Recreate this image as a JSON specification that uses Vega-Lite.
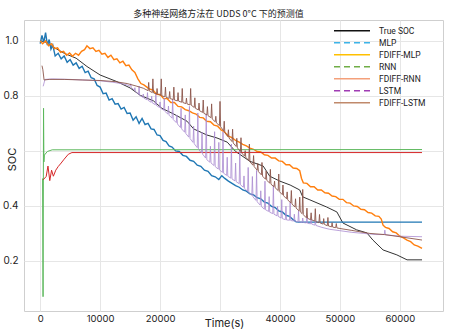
{
  "$schema": "https://vega.github.io/schema/vega-lite/v6.json",
  "autosize": {"type": "none"},
  "width": 419,
  "height": 291,
  "padding": {"left": 24, "top": 20, "right": 20, "bottom": 20},
  "background": "white",
  "title": {"text": "多种神经网络方法在 UDDS 0°C 下的预测值", "font": "Noto Sans CJK SC", "fontSize": 9, "fontWeight": "normal", "color": "#222", "offset": 4, "dx": -15, "dy": 3},
  "config": {
    "view": {"stroke": "#cfcfcf"},
    "axis": {"grid": true, "gridColor": "#e6e6e6", "domain": false, "ticks": false, "labelFont": "Inter", "labelColor": "#222", "titleFont": "Inter", "titleColor": "#222", "titleFontWeight": "normal"},
    "legend": {"labelFont": "Roboto", "labelFontSize": 8.5, "labelColor": "#222"}
  },
  "datasets": {
    "main": [
      {"s":"True SOC","t":0,"v":1.0},{"s":"True SOC","t":800,"v":0.997},{"s":"True SOC","t":2000,"v":0.98},{"s":"True SOC","t":4000,"v":0.955},{"s":"True SOC","t":6000,"v":0.937},{"s":"True SOC","t":7800,"v":0.907},{"s":"True SOC","t":10000,"v":0.876},{"s":"True SOC","t":12800,"v":0.852},{"s":"True SOC","t":15000,"v":0.829},{"s":"True SOC","t":16700,"v":0.802},{"s":"True SOC","t":18900,"v":0.782},{"s":"True SOC","t":20300,"v":0.755},{"s":"True SOC","t":22200,"v":0.735},{"s":"True SOC","t":24500,"v":0.708},{"s":"True SOC","t":25600,"v":0.68},{"s":"True SOC","t":27800,"v":0.658},{"s":"True SOC","t":29500,"v":0.647},{"s":"True SOC","t":31200,"v":0.632},{"s":"True SOC","t":32600,"v":0.598},{"s":"True SOC","t":35000,"v":0.562},{"s":"True SOC","t":37200,"v":0.545},{"s":"True SOC","t":38300,"v":0.508},{"s":"True SOC","t":40000,"v":0.49},{"s":"True SOC","t":41700,"v":0.476},{"s":"True SOC","t":43300,"v":0.458},{"s":"True SOC","t":43800,"v":0.433},{"s":"True SOC","t":45000,"v":0.422},{"s":"True SOC","t":47800,"v":0.396},{"s":"True SOC","t":49500,"v":0.378},{"s":"True SOC","t":50500,"v":0.338},{"s":"True SOC","t":52800,"v":0.313},{"s":"True SOC","t":54500,"v":0.302},{"s":"True SOC","t":55500,"v":0.276},{"s":"True SOC","t":57200,"v":0.24},{"s":"True SOC","t":59500,"v":0.222},{"s":"True SOC","t":61200,"v":0.204},{"s":"True SOC","t":63700,"v":0.204},

      {"s":"MLP","t":0,"v":0.99},{"s":"MLP","t":300,"v":1.02},{"s":"MLP","t":600,"v":0.995},{"s":"MLP","t":900,"v":1.03},{"s":"MLP","t":1200,"v":0.985},{"s":"MLP","t":1500,"v":1.005},{"s":"MLP","t":1800,"v":0.97},{"s":"MLP","t":2100,"v":0.985},{"s":"MLP","t":2500,"v":0.945},{"s":"MLP","t":3000,"v":0.955},{"s":"MLP","t":3500,"v":0.935},{"s":"MLP","t":4000,"v":0.945},{"s":"MLP","t":4500,"v":0.922},{"s":"MLP","t":5000,"v":0.932},{"s":"MLP","t":5500,"v":0.912},{"s":"MLP","t":6000,"v":0.92},{"s":"MLP","t":6500,"v":0.9},{"s":"MLP","t":7000,"v":0.908},{"s":"MLP","t":7500,"v":0.885},{"s":"MLP","t":8000,"v":0.89},{"s":"MLP","t":8500,"v":0.866},{"s":"MLP","t":9000,"v":0.862},{"s":"MLP","t":9500,"v":0.838},{"s":"MLP","t":10000,"v":0.832},{"s":"MLP","t":10500,"v":0.808},{"s":"MLP","t":11000,"v":0.81},{"s":"MLP","t":11500,"v":0.785},{"s":"MLP","t":12000,"v":0.79},{"s":"MLP","t":12500,"v":0.77},{"s":"MLP","t":13000,"v":0.772},{"s":"MLP","t":13500,"v":0.752},{"s":"MLP","t":14000,"v":0.758},{"s":"MLP","t":14500,"v":0.736},{"s":"MLP","t":15000,"v":0.738},{"s":"MLP","t":15500,"v":0.712},{"s":"MLP","t":16000,"v":0.724},{"s":"MLP","t":16500,"v":0.7},{"s":"MLP","t":17000,"v":0.718},{"s":"MLP","t":17500,"v":0.696},{"s":"MLP","t":18000,"v":0.7},{"s":"MLP","t":18500,"v":0.68},{"s":"MLP","t":19000,"v":0.678},{"s":"MLP","t":19500,"v":0.658},{"s":"MLP","t":20000,"v":0.656},{"s":"MLP","t":20500,"v":0.638},{"s":"MLP","t":21000,"v":0.634},{"s":"MLP","t":21500,"v":0.618},{"s":"MLP","t":22000,"v":0.614},{"s":"MLP","t":22600,"v":0.6},{"s":"MLP","t":23200,"v":0.598},{"s":"MLP","t":23800,"v":0.584},{"s":"MLP","t":24400,"v":0.58},{"s":"MLP","t":25000,"v":0.566},{"s":"MLP","t":25600,"v":0.562},{"s":"MLP","t":26200,"v":0.548},{"s":"MLP","t":26800,"v":0.544},{"s":"MLP","t":27400,"v":0.53},{"s":"MLP","t":28000,"v":0.526},{"s":"MLP","t":28600,"v":0.51},{"s":"MLP","t":29200,"v":0.506},{"s":"MLP","t":29800,"v":0.496},{"s":"MLP","t":30300,"v":0.51},{"s":"MLP","t":30800,"v":0.5},{"s":"MLP","t":31400,"v":0.49},{"s":"MLP","t":32000,"v":0.482},{"s":"MLP","t":32600,"v":0.474},{"s":"MLP","t":33200,"v":0.468},{"s":"MLP","t":33800,"v":0.458},{"s":"MLP","t":34400,"v":0.454},{"s":"MLP","t":35000,"v":0.444},{"s":"MLP","t":35600,"v":0.44},{"s":"MLP","t":36200,"v":0.43},{"s":"MLP","t":36800,"v":0.426},{"s":"MLP","t":37400,"v":0.414},{"s":"MLP","t":38000,"v":0.41},{"s":"MLP","t":38600,"v":0.398},{"s":"MLP","t":39200,"v":0.394},{"s":"MLP","t":39800,"v":0.382},{"s":"MLP","t":40400,"v":0.378},{"s":"MLP","t":41000,"v":0.366},{"s":"MLP","t":41600,"v":0.362},{"s":"MLP","t":42200,"v":0.35},{"s":"MLP","t":42700,"v":0.342},{"s":"MLP","t":43200,"v":0.341},{"s":"MLP","t":63700,"v":0.341},

      {"s":"FDIFF-MLP","t":0,"v":1.0},{"s":"FDIFF-MLP","t":400,"v":0.99},{"s":"FDIFF-MLP","t":900,"v":1.0},{"s":"FDIFF-MLP","t":1400,"v":0.982},{"s":"FDIFF-MLP","t":1900,"v":0.99},{"s":"FDIFF-MLP","t":2400,"v":0.972},{"s":"FDIFF-MLP","t":2900,"v":0.975},{"s":"FDIFF-MLP","t":3400,"v":0.958},{"s":"FDIFF-MLP","t":3900,"v":0.962},{"s":"FDIFF-MLP","t":4400,"v":0.948},{"s":"FDIFF-MLP","t":4900,"v":0.956},{"s":"FDIFF-MLP","t":5400,"v":0.944},{"s":"FDIFF-MLP","t":5900,"v":0.955},{"s":"FDIFF-MLP","t":6400,"v":0.948},{"s":"FDIFF-MLP","t":6900,"v":0.962},{"s":"FDIFF-MLP","t":7400,"v":0.968},{"s":"FDIFF-MLP","t":7800,"v":0.982},{"s":"FDIFF-MLP","t":8300,"v":0.972},{"s":"FDIFF-MLP","t":8800,"v":0.975},{"s":"FDIFF-MLP","t":9300,"v":0.962},{"s":"FDIFF-MLP","t":9800,"v":0.966},{"s":"FDIFF-MLP","t":10300,"v":0.952},{"s":"FDIFF-MLP","t":10800,"v":0.955},{"s":"FDIFF-MLP","t":11300,"v":0.94},{"s":"FDIFF-MLP","t":11800,"v":0.948},{"s":"FDIFF-MLP","t":12300,"v":0.932},{"s":"FDIFF-MLP","t":12800,"v":0.935},{"s":"FDIFF-MLP","t":13300,"v":0.92},{"s":"FDIFF-MLP","t":13800,"v":0.926},{"s":"FDIFF-MLP","t":14300,"v":0.91},{"s":"FDIFF-MLP","t":14800,"v":0.912},{"s":"FDIFF-MLP","t":15300,"v":0.895},{"s":"FDIFF-MLP","t":15800,"v":0.885},{"s":"FDIFF-MLP","t":16300,"v":0.862},{"s":"FDIFF-MLP","t":16800,"v":0.845},{"s":"FDIFF-MLP","t":17300,"v":0.84},{"s":"FDIFF-MLP","t":17800,"v":0.832},{"s":"FDIFF-MLP","t":18300,"v":0.824},{"s":"FDIFF-MLP","t":18800,"v":0.822},{"s":"FDIFF-MLP","t":19400,"v":0.806},{"s":"FDIFF-MLP","t":20000,"v":0.805},{"s":"FDIFF-MLP","t":20600,"v":0.79},{"s":"FDIFF-MLP","t":21200,"v":0.79},{"s":"FDIFF-MLP","t":21800,"v":0.776},{"s":"FDIFF-MLP","t":22400,"v":0.776},{"s":"FDIFF-MLP","t":23000,"v":0.762},{"s":"FDIFF-MLP","t":23600,"v":0.76},{"s":"FDIFF-MLP","t":24200,"v":0.75},{"s":"FDIFF-MLP","t":24800,"v":0.746},{"s":"FDIFF-MLP","t":25400,"v":0.738},{"s":"FDIFF-MLP","t":26000,"v":0.734},{"s":"FDIFF-MLP","t":26600,"v":0.722},{"s":"FDIFF-MLP","t":27200,"v":0.72},{"s":"FDIFF-MLP","t":27800,"v":0.708},{"s":"FDIFF-MLP","t":28400,"v":0.706},{"s":"FDIFF-MLP","t":29000,"v":0.694},{"s":"FDIFF-MLP","t":29600,"v":0.69},{"s":"FDIFF-MLP","t":30200,"v":0.676},{"s":"FDIFF-MLP","t":30800,"v":0.668},{"s":"FDIFF-MLP","t":31400,"v":0.654},{"s":"FDIFF-MLP","t":32000,"v":0.648},{"s":"FDIFF-MLP","t":32600,"v":0.638},{"s":"FDIFF-MLP","t":33200,"v":0.632},{"s":"FDIFF-MLP","t":33800,"v":0.624},{"s":"FDIFF-MLP","t":34400,"v":0.618},{"s":"FDIFF-MLP","t":35000,"v":0.61},{"s":"FDIFF-MLP","t":35600,"v":0.606},{"s":"FDIFF-MLP","t":36200,"v":0.598},{"s":"FDIFF-MLP","t":36800,"v":0.596},{"s":"FDIFF-MLP","t":37400,"v":0.586},{"s":"FDIFF-MLP","t":38000,"v":0.584},{"s":"FDIFF-MLP","t":38600,"v":0.574},{"s":"FDIFF-MLP","t":39200,"v":0.574},{"s":"FDIFF-MLP","t":39800,"v":0.564},{"s":"FDIFF-MLP","t":40400,"v":0.562},{"s":"FDIFF-MLP","t":41000,"v":0.55},{"s":"FDIFF-MLP","t":41600,"v":0.55},{"s":"FDIFF-MLP","t":42200,"v":0.538},{"s":"FDIFF-MLP","t":42800,"v":0.536},{"s":"FDIFF-MLP","t":43300,"v":0.528},{"s":"FDIFF-MLP","t":43600,"v":0.5},{"s":"FDIFF-MLP","t":43900,"v":0.484},{"s":"FDIFF-MLP","t":44500,"v":0.482},{"s":"FDIFF-MLP","t":45100,"v":0.47},{"s":"FDIFF-MLP","t":45700,"v":0.47},{"s":"FDIFF-MLP","t":46300,"v":0.458},{"s":"FDIFF-MLP","t":46900,"v":0.458},{"s":"FDIFF-MLP","t":47500,"v":0.448},{"s":"FDIFF-MLP","t":48100,"v":0.446},{"s":"FDIFF-MLP","t":48700,"v":0.436},{"s":"FDIFF-MLP","t":49300,"v":0.434},{"s":"FDIFF-MLP","t":49900,"v":0.424},{"s":"FDIFF-MLP","t":50500,"v":0.424},{"s":"FDIFF-MLP","t":51100,"v":0.412},{"s":"FDIFF-MLP","t":51700,"v":0.41},{"s":"FDIFF-MLP","t":52300,"v":0.4},{"s":"FDIFF-MLP","t":52900,"v":0.398},{"s":"FDIFF-MLP","t":53500,"v":0.388},{"s":"FDIFF-MLP","t":54100,"v":0.386},{"s":"FDIFF-MLP","t":54700,"v":0.376},{"s":"FDIFF-MLP","t":55300,"v":0.374},{"s":"FDIFF-MLP","t":55900,"v":0.364},{"s":"FDIFF-MLP","t":56500,"v":0.362},{"s":"FDIFF-MLP","t":56900,"v":0.352},{"s":"FDIFF-MLP","t":57200,"v":0.33},{"s":"FDIFF-MLP","t":57600,"v":0.322},{"s":"FDIFF-MLP","t":58200,"v":0.318},{"s":"FDIFF-MLP","t":58800,"v":0.306},{"s":"FDIFF-MLP","t":59400,"v":0.302},{"s":"FDIFF-MLP","t":60000,"v":0.29},{"s":"FDIFF-MLP","t":60600,"v":0.284},{"s":"FDIFF-MLP","t":61200,"v":0.276},{"s":"FDIFF-MLP","t":61800,"v":0.27},{"s":"FDIFF-MLP","t":62400,"v":0.258},{"s":"FDIFF-MLP","t":63000,"v":0.254},{"s":"FDIFF-MLP","t":63700,"v":0.246},

      {"s":"RNN","t":400,"v":0.5},{"s":"RNN","t":480,"v":0.07},{"s":"RNN","t":560,"v":0.755},{"s":"RNN","t":620,"v":0.56},{"s":"RNN","t":700,"v":0.585},{"s":"RNN","t":1200,"v":0.598},{"s":"RNN","t":2000,"v":0.604},{"s":"RNN","t":63700,"v":0.605},

      {"s":"FDIFF-RNN","t":500,"v":0.495},{"s":"FDIFF-RNN","t":1000,"v":0.507},{"s":"FDIFF-RNN","t":1300,"v":0.545},{"s":"FDIFF-RNN","t":1600,"v":0.492},{"s":"FDIFF-RNN","t":1900,"v":0.53},{"s":"FDIFF-RNN","t":2200,"v":0.508},{"s":"FDIFF-RNN","t":2600,"v":0.53},{"s":"FDIFF-RNN","t":3000,"v":0.543},{"s":"FDIFF-RNN","t":3500,"v":0.556},{"s":"FDIFF-RNN","t":4000,"v":0.57},{"s":"FDIFF-RNN","t":4700,"v":0.588},{"s":"FDIFF-RNN","t":5300,"v":0.594},{"s":"FDIFF-RNN","t":63700,"v":0.594},

      {"s":"LSTM","t":500,"v":0.835},{"s":"LSTM","t":800,"v":0.86},{"s":"LSTM","t":2000,"v":0.862},{"s":"LSTM","t":5000,"v":0.86},{"s":"LSTM","t":8000,"v":0.857},{"s":"LSTM","t":10000,"v":0.855},{"s":"LSTM","t":12000,"v":0.85},{"s":"LSTM","t":13500,"v":0.845},{"s":"LSTM","t":14500,"v":0.84},
      {"s":"LSTM","t":15000,"v":0.835},{"s":"LSTM","t":15100,"v":0.844},{"s":"LSTM","t":15200,"v":0.831},
      {"s":"LSTM","t":15700,"v":0.821},{"s":"LSTM","t":15800,"v":0.83},{"s":"LSTM","t":15900,"v":0.817},
      {"s":"LSTM","t":16400,"v":0.806},{"s":"LSTM","t":16500,"v":0.836},{"s":"LSTM","t":16600,"v":0.802},
      {"s":"LSTM","t":17100,"v":0.795},{"s":"LSTM","t":17200,"v":0.807},{"s":"LSTM","t":17300,"v":0.792},
      {"s":"LSTM","t":17800,"v":0.786},{"s":"LSTM","t":17900,"v":0.812},{"s":"LSTM","t":18000,"v":0.784},
      {"s":"LSTM","t":18500,"v":0.777},{"s":"LSTM","t":18600,"v":0.799},{"s":"LSTM","t":18700,"v":0.775},
      {"s":"LSTM","t":19200,"v":0.768},{"s":"LSTM","t":19300,"v":0.806},{"s":"LSTM","t":19400,"v":0.765},
      {"s":"LSTM","t":19900,"v":0.758},{"s":"LSTM","t":20000,"v":0.778},{"s":"LSTM","t":20100,"v":0.755},
      {"s":"LSTM","t":20600,"v":0.748},{"s":"LSTM","t":20700,"v":0.792},{"s":"LSTM","t":20800,"v":0.744},
      {"s":"LSTM","t":21300,"v":0.734},{"s":"LSTM","t":21400,"v":0.763},{"s":"LSTM","t":21500,"v":0.73},
      {"s":"LSTM","t":22000,"v":0.719},{"s":"LSTM","t":22100,"v":0.788},{"s":"LSTM","t":22200,"v":0.714},
      {"s":"LSTM","t":22700,"v":0.703},{"s":"LSTM","t":22800,"v":0.731},{"s":"LSTM","t":22900,"v":0.698},
      {"s":"LSTM","t":23400,"v":0.685},{"s":"LSTM","t":23500,"v":0.755},{"s":"LSTM","t":23600,"v":0.68},
      {"s":"LSTM","t":24100,"v":0.668},{"s":"LSTM","t":24200,"v":0.731},{"s":"LSTM","t":24300,"v":0.663},
      {"s":"LSTM","t":24800,"v":0.65},{"s":"LSTM","t":24900,"v":0.762},{"s":"LSTM","t":25000,"v":0.645},
      {"s":"LSTM","t":25500,"v":0.631},{"s":"LSTM","t":25600,"v":0.69},{"s":"LSTM","t":25700,"v":0.626},
      {"s":"LSTM","t":26200,"v":0.612},{"s":"LSTM","t":26300,"v":0.738},{"s":"LSTM","t":26400,"v":0.606},
      {"s":"LSTM","t":26900,"v":0.593},{"s":"LSTM","t":27000,"v":0.668},{"s":"LSTM","t":27100,"v":0.588},
      {"s":"LSTM","t":27600,"v":0.574},{"s":"LSTM","t":27700,"v":0.734},{"s":"LSTM","t":27800,"v":0.568},
      {"s":"LSTM","t":28300,"v":0.559},{"s":"LSTM","t":28400,"v":0.617},{"s":"LSTM","t":28500,"v":0.556},
      {"s":"LSTM","t":29000,"v":0.547},{"s":"LSTM","t":29100,"v":0.67},{"s":"LSTM","t":29200,"v":0.543},
      {"s":"LSTM","t":29700,"v":0.534},{"s":"LSTM","t":29800,"v":0.631},{"s":"LSTM","t":29900,"v":0.531},
      {"s":"LSTM","t":30400,"v":0.522},{"s":"LSTM","t":30500,"v":0.67},{"s":"LSTM","t":30600,"v":0.519},
      {"s":"LSTM","t":31100,"v":0.511},{"s":"LSTM","t":31200,"v":0.577},{"s":"LSTM","t":31300,"v":0.508},
      {"s":"LSTM","t":31800,"v":0.501},{"s":"LSTM","t":31900,"v":0.625},{"s":"LSTM","t":32000,"v":0.498},
      {"s":"LSTM","t":32500,"v":0.491},{"s":"LSTM","t":32600,"v":0.556},{"s":"LSTM","t":32700,"v":0.488},
      {"s":"LSTM","t":33200,"v":0.481},{"s":"LSTM","t":33300,"v":0.603},{"s":"LSTM","t":33400,"v":0.477},
      {"s":"LSTM","t":33900,"v":0.468},{"s":"LSTM","t":34000,"v":0.509},{"s":"LSTM","t":34100,"v":0.464},
      {"s":"LSTM","t":34600,"v":0.453},{"s":"LSTM","t":34700,"v":0.54},{"s":"LSTM","t":34800,"v":0.449},
      {"s":"LSTM","t":35300,"v":0.438},{"s":"LSTM","t":35400,"v":0.507},{"s":"LSTM","t":35500,"v":0.433},
      {"s":"LSTM","t":36000,"v":0.42},{"s":"LSTM","t":36100,"v":0.529},{"s":"LSTM","t":36200,"v":0.415},
      {"s":"LSTM","t":36700,"v":0.403},{"s":"LSTM","t":36800,"v":0.455},{"s":"LSTM","t":36900,"v":0.398},
      {"s":"LSTM","t":37400,"v":0.388},{"s":"LSTM","t":37500,"v":0.49},{"s":"LSTM","t":37600,"v":0.386},
      {"s":"LSTM","t":38100,"v":0.38},{"s":"LSTM","t":38200,"v":0.434},{"s":"LSTM","t":38300,"v":0.377},
      {"s":"LSTM","t":38800,"v":0.372},{"s":"LSTM","t":38900,"v":0.474},{"s":"LSTM","t":39000,"v":0.37},
      {"s":"LSTM","t":39500,"v":0.364},{"s":"LSTM","t":39600,"v":0.398},{"s":"LSTM","t":39700,"v":0.362},
      {"s":"LSTM","t":40200,"v":0.356},{"s":"LSTM","t":40300,"v":0.423},{"s":"LSTM","t":40400,"v":0.354},
      {"s":"LSTM","t":40900,"v":0.35},{"s":"LSTM","t":41000,"v":0.399},{"s":"LSTM","t":41100,"v":0.349},
      {"s":"LSTM","t":41600,"v":0.348},{"s":"LSTM","t":41700,"v":0.413},{"s":"LSTM","t":41800,"v":0.347},
      {"s":"LSTM","t":42300,"v":0.345},{"s":"LSTM","t":42400,"v":0.37},{"s":"LSTM","t":42500,"v":0.345},
      {"s":"LSTM","t":43000,"v":0.342},{"s":"LSTM","t":43100,"v":0.382},{"s":"LSTM","t":43200,"v":0.342},
      {"s":"LSTM","t":43700,"v":0.34},{"s":"LSTM","t":43800,"v":0.356},{"s":"LSTM","t":43900,"v":0.34},
      {"s":"LSTM","t":44400,"v":0.338},{"s":"LSTM","t":44500,"v":0.365},{"s":"LSTM","t":44600,"v":0.337},
      {"s":"LSTM","t":45100,"v":0.335},{"s":"LSTM","t":45200,"v":0.352},{"s":"LSTM","t":45300,"v":0.334},
      {"s":"LSTM","t":45800,"v":0.33},{"s":"LSTM","t":45900,"v":0.345},{"s":"LSTM","t":46000,"v":0.329},
      {"s":"LSTM","t":47000,"v":0.322},{"s":"LSTM","t":48300,"v":0.315},{"s":"LSTM","t":50000,"v":0.31},{"s":"LSTM","t":52000,"v":0.304},{"s":"LSTM","t":54000,"v":0.3},{"s":"LSTM","t":56000,"v":0.296},{"s":"LSTM","t":57400,"v":0.296},{"s":"LSTM","t":57500,"v":0.312},{"s":"LSTM","t":57600,"v":0.295},{"s":"LSTM","t":60000,"v":0.29},{"s":"LSTM","t":63700,"v":0.288},

      {"s":"FDIFF-LSTM","t":300,"v":0.91},{"s":"FDIFF-LSTM","t":450,"v":0.895},{"s":"FDIFF-LSTM","t":650,"v":0.858},{"s":"FDIFF-LSTM","t":1500,"v":0.86},{"s":"FDIFF-LSTM","t":4000,"v":0.86},{"s":"FDIFF-LSTM","t":7000,"v":0.858},{"s":"FDIFF-LSTM","t":10000,"v":0.856},{"s":"FDIFF-LSTM","t":12500,"v":0.852},{"s":"FDIFF-LSTM","t":14500,"v":0.845},{"s":"FDIFF-LSTM","t":16000,"v":0.836},{"s":"FDIFF-LSTM","t":17200,"v":0.828},
      {"s":"FDIFF-LSTM","t":18000,"v":0.819},{"s":"FDIFF-LSTM","t":18100,"v":0.849},{"s":"FDIFF-LSTM","t":18200,"v":0.818},
      {"s":"FDIFF-LSTM","t":18700,"v":0.812},{"s":"FDIFF-LSTM","t":18800,"v":0.862},{"s":"FDIFF-LSTM","t":18900,"v":0.811},
      {"s":"FDIFF-LSTM","t":19400,"v":0.807},{"s":"FDIFF-LSTM","t":19500,"v":0.827},{"s":"FDIFF-LSTM","t":19600,"v":0.806},
      {"s":"FDIFF-LSTM","t":20100,"v":0.802},{"s":"FDIFF-LSTM","t":20200,"v":0.862},{"s":"FDIFF-LSTM","t":20300,"v":0.8},
      {"s":"FDIFF-LSTM","t":20800,"v":0.797},{"s":"FDIFF-LSTM","t":20900,"v":0.832},{"s":"FDIFF-LSTM","t":21000,"v":0.795},
      {"s":"FDIFF-LSTM","t":21500,"v":0.791},{"s":"FDIFF-LSTM","t":21600,"v":0.816},{"s":"FDIFF-LSTM","t":21700,"v":0.79},
      {"s":"FDIFF-LSTM","t":22200,"v":0.787},{"s":"FDIFF-LSTM","t":22300,"v":0.832},{"s":"FDIFF-LSTM","t":22400,"v":0.785},
      {"s":"FDIFF-LSTM","t":22900,"v":0.782},{"s":"FDIFF-LSTM","t":23000,"v":0.812},{"s":"FDIFF-LSTM","t":23100,"v":0.781},
      {"s":"FDIFF-LSTM","t":23600,"v":0.777},{"s":"FDIFF-LSTM","t":23700,"v":0.827},{"s":"FDIFF-LSTM","t":23800,"v":0.776},
      {"s":"FDIFF-LSTM","t":24300,"v":0.772},{"s":"FDIFF-LSTM","t":24400,"v":0.792},{"s":"FDIFF-LSTM","t":24500,"v":0.771},
      {"s":"FDIFF-LSTM","t":25000,"v":0.767},{"s":"FDIFF-LSTM","t":25100,"v":0.827},{"s":"FDIFF-LSTM","t":25200,"v":0.766},
      {"s":"FDIFF-LSTM","t":25700,"v":0.758},{"s":"FDIFF-LSTM","t":25800,"v":0.793},{"s":"FDIFF-LSTM","t":25900,"v":0.755},
      {"s":"FDIFF-LSTM","t":26400,"v":0.749},{"s":"FDIFF-LSTM","t":26500,"v":0.774},{"s":"FDIFF-LSTM","t":26600,"v":0.746},
      {"s":"FDIFF-LSTM","t":27100,"v":0.74},{"s":"FDIFF-LSTM","t":27200,"v":0.785},{"s":"FDIFF-LSTM","t":27300,"v":0.737},
      {"s":"FDIFF-LSTM","t":27800,"v":0.731},{"s":"FDIFF-LSTM","t":27900,"v":0.761},{"s":"FDIFF-LSTM","t":28000,"v":0.728},
      {"s":"FDIFF-LSTM","t":28500,"v":0.721},{"s":"FDIFF-LSTM","t":28600,"v":0.771},{"s":"FDIFF-LSTM","t":28700,"v":0.716},
      {"s":"FDIFF-LSTM","t":29200,"v":0.706},{"s":"FDIFF-LSTM","t":29300,"v":0.726},{"s":"FDIFF-LSTM","t":29400,"v":0.702},
      {"s":"FDIFF-LSTM","t":29900,"v":0.692},{"s":"FDIFF-LSTM","t":30000,"v":0.78},{"s":"FDIFF-LSTM","t":30100,"v":0.688},
      {"s":"FDIFF-LSTM","t":30600,"v":0.673},{"s":"FDIFF-LSTM","t":30700,"v":0.708},{"s":"FDIFF-LSTM","t":30800,"v":0.667},
      {"s":"FDIFF-LSTM","t":31300,"v":0.652},{"s":"FDIFF-LSTM","t":31400,"v":0.677},{"s":"FDIFF-LSTM","t":31500,"v":0.647},
      {"s":"FDIFF-LSTM","t":32000,"v":0.634},{"s":"FDIFF-LSTM","t":32100,"v":0.679},{"s":"FDIFF-LSTM","t":32200,"v":0.629},
      {"s":"FDIFF-LSTM","t":32700,"v":0.616},{"s":"FDIFF-LSTM","t":32800,"v":0.646},{"s":"FDIFF-LSTM","t":32900,"v":0.611},
      {"s":"FDIFF-LSTM","t":33400,"v":0.598},{"s":"FDIFF-LSTM","t":33500,"v":0.648},{"s":"FDIFF-LSTM","t":33600,"v":0.593},
      {"s":"FDIFF-LSTM","t":34100,"v":0.581},{"s":"FDIFF-LSTM","t":34200,"v":0.601},{"s":"FDIFF-LSTM","t":34300,"v":0.577},
      {"s":"FDIFF-LSTM","t":34800,"v":0.565},{"s":"FDIFF-LSTM","t":34900,"v":0.625},{"s":"FDIFF-LSTM","t":35000,"v":0.56},
      {"s":"FDIFF-LSTM","t":35500,"v":0.548},{"s":"FDIFF-LSTM","t":35600,"v":0.583},{"s":"FDIFF-LSTM","t":35700,"v":0.543},
      {"s":"FDIFF-LSTM","t":36200,"v":0.53},{"s":"FDIFF-LSTM","t":36300,"v":0.555},{"s":"FDIFF-LSTM","t":36400,"v":0.525},
      {"s":"FDIFF-LSTM","t":36900,"v":0.513},{"s":"FDIFF-LSTM","t":37000,"v":0.558},{"s":"FDIFF-LSTM","t":37100,"v":0.508},
      {"s":"FDIFF-LSTM","t":37600,"v":0.497},{"s":"FDIFF-LSTM","t":37700,"v":0.527},{"s":"FDIFF-LSTM","t":37800,"v":0.493},
      {"s":"FDIFF-LSTM","t":38300,"v":0.483},{"s":"FDIFF-LSTM","t":38400,"v":0.533},{"s":"FDIFF-LSTM","t":38500,"v":0.479},
      {"s":"FDIFF-LSTM","t":39000,"v":0.47},{"s":"FDIFF-LSTM","t":39100,"v":0.49},{"s":"FDIFF-LSTM","t":39200,"v":0.466},
      {"s":"FDIFF-LSTM","t":39700,"v":0.456},{"s":"FDIFF-LSTM","t":39800,"v":0.516},{"s":"FDIFF-LSTM","t":39900,"v":0.452},
      {"s":"FDIFF-LSTM","t":40400,"v":0.441},{"s":"FDIFF-LSTM","t":40500,"v":0.476},{"s":"FDIFF-LSTM","t":40600,"v":0.437},
      {"s":"FDIFF-LSTM","t":41100,"v":0.426},{"s":"FDIFF-LSTM","t":41200,"v":0.451},{"s":"FDIFF-LSTM","t":41300,"v":0.422},
      {"s":"FDIFF-LSTM","t":41800,"v":0.411},{"s":"FDIFF-LSTM","t":41900,"v":0.456},{"s":"FDIFF-LSTM","t":42000,"v":0.407},
      {"s":"FDIFF-LSTM","t":42500,"v":0.396},{"s":"FDIFF-LSTM","t":42600,"v":0.426},{"s":"FDIFF-LSTM","t":42700,"v":0.392},
      {"s":"FDIFF-LSTM","t":43200,"v":0.382},{"s":"FDIFF-LSTM","t":43300,"v":0.432},{"s":"FDIFF-LSTM","t":43400,"v":0.378},
      {"s":"FDIFF-LSTM","t":43700,"v":0.372},{"s":"FDIFF-LSTM","t":43800,"v":0.46},{"s":"FDIFF-LSTM","t":43900,"v":0.368},
      {"s":"FDIFF-LSTM","t":44400,"v":0.357},{"s":"FDIFF-LSTM","t":44500,"v":0.392},{"s":"FDIFF-LSTM","t":44600,"v":0.355},
      {"s":"FDIFF-LSTM","t":45100,"v":0.35},{"s":"FDIFF-LSTM","t":45200,"v":0.375},{"s":"FDIFF-LSTM","t":45300,"v":0.349},
      {"s":"FDIFF-LSTM","t":45800,"v":0.345},{"s":"FDIFF-LSTM","t":45900,"v":0.39},{"s":"FDIFF-LSTM","t":46000,"v":0.343},
      {"s":"FDIFF-LSTM","t":46500,"v":0.339},{"s":"FDIFF-LSTM","t":46600,"v":0.369},{"s":"FDIFF-LSTM","t":46700,"v":0.338},
      {"s":"FDIFF-LSTM","t":47200,"v":0.334},{"s":"FDIFF-LSTM","t":47300,"v":0.354},{"s":"FDIFF-LSTM","t":47400,"v":0.333},
      {"s":"FDIFF-LSTM","t":47900,"v":0.328},{"s":"FDIFF-LSTM","t":48000,"v":0.358},{"s":"FDIFF-LSTM","t":48100,"v":0.327},
      {"s":"FDIFF-LSTM","t":48600,"v":0.324},{"s":"FDIFF-LSTM","t":48700,"v":0.339},{"s":"FDIFF-LSTM","t":48800,"v":0.323},
      {"s":"FDIFF-LSTM","t":49300,"v":0.321},{"s":"FDIFF-LSTM","t":49400,"v":0.336},{"s":"FDIFF-LSTM","t":49500,"v":0.32},
      {"s":"FDIFF-LSTM","t":50000,"v":0.318},{"s":"FDIFF-LSTM","t":52000,"v":0.311},{"s":"FDIFF-LSTM","t":55000,"v":0.3},{"s":"FDIFF-LSTM","t":57400,"v":0.296},{"s":"FDIFF-LSTM","t":60000,"v":0.288},{"s":"FDIFF-LSTM","t":63700,"v":0.276}
    ],
    "legend": [
      {"s":"True SOC","t":0,"v":1.0},{"s":"MLP","t":0,"v":1.0},{"s":"FDIFF-MLP","t":0,"v":1.0},{"s":"RNN","t":0,"v":1.0},{"s":"FDIFF-RNN","t":0,"v":1.0},{"s":"LSTM","t":0,"v":1.0},{"s":"FDIFF-LSTM","t":0,"v":1.0}
    ]
  },
  "layer": [
    {
      "data": {"name": "main"},
      "mark": {"type": "line", "clip": true},
      "encoding": {
        "x": {"field": "t", "type": "quantitative", "scale": {"domain": [-2700, 67200], "nice": false, "zero": false},
              "axis": {"values": [0,10000,20000,30000,40000,50000,60000], "format": "d", "labelExpr": "datum.value == 30000 ? '' : datum.label", "title": "Time(s)", "labelFontSize": 9.5, "labelPadding": 2, "titleFontSize": 11, "titleX": 200, "titleY": 12, "titleBaseline": "middle", "titleAlign": "center"}},
        "y": {"field": "v", "type": "quantitative", "scale": {"domain": [0.018, 1.076], "nice": false, "zero": false},
              "axis": {"values": [0.2,0.4,0.6,0.8,1.0], "format": ".1f", "labelExpr": "datum.value == 0.6 ? '' : datum.label", "title": "SOC", "labelFontSize": 10, "labelPadding": 6, "titleFontSize": 11, "titleX": -12, "titleY": 139, "titleBaseline": "middle", "titleAlign": "center", "titleAngle": -90}},
        "color": {"field": "s", "type": "nominal",
                  "scale": {"domain": ["True SOC","MLP","FDIFF-MLP","RNN","FDIFF-RNN","LSTM","FDIFF-LSTM"], "range": ["#333333","#1f77b4","#ff7f0e","#5cb85c","#d62728","#a98ad0","#8c564b"]},
                  "legend": null},
        "strokeWidth": {"field": "s", "type": "nominal",
                  "scale": {"type": "ordinal", "domain": ["True SOC","MLP","FDIFF-MLP","RNN","FDIFF-RNN","LSTM","FDIFF-LSTM"], "range": [1, 1.4, 1.4, 1, 1, 0.8, 0.9]},
                  "legend": null}
      }
    },
    {
      "data": {"name": "legend"},
      "mark": {"type": "line", "strokeWidth": 1.5},
      "encoding": {
        "x": {"field": "t", "type": "quantitative"},
        "y": {"field": "v", "type": "quantitative"},
        "color": {"field": "s", "type": "nominal",
                  "scale": {"domain": ["True SOC","MLP","FDIFF-MLP","RNN","FDIFF-RNN","LSTM","FDIFF-LSTM"], "range": ["#111111","#3db4e8","#ffc000","#70ad47","#f4a07a","#a03cb4","#c0896b"]},
                  "legend": {"title": null, "orient": "none", "legendX": 309, "legendY": 5, "padding": 0, "symbolType": "stroke", "symbolSize": 1296, "symbolStrokeWidth": 1.5, "clipHeight": 11.7, "rowPadding": 0, "labelOffset": 8}},
        "strokeDash": {"field": "s", "type": "nominal",
                  "scale": {"domain": ["True SOC","MLP","FDIFF-MLP","RNN","FDIFF-RNN","LSTM","FDIFF-LSTM"], "range": [[1,0],[6,4],[1,0],[6,4],[1,0],[6,4],[1,0]]},
                  "legend": {"title": null, "orient": "none", "legendX": 309, "legendY": 5, "padding": 0, "symbolType": "stroke", "symbolSize": 1296, "symbolStrokeWidth": 1.5, "clipHeight": 11.7, "rowPadding": 0, "labelOffset": 8}}
      }
    }
  ],
  "resolve": {"scale": {"color": "independent", "strokeDash": "independent", "strokeWidth": "independent"}}
}
